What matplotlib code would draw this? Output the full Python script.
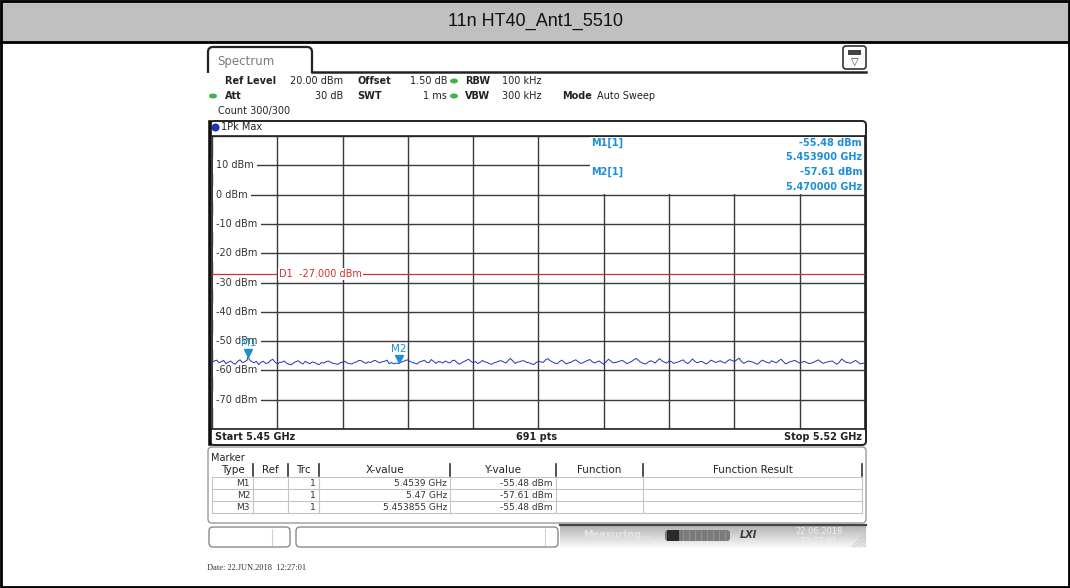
import numpy as np
import matplotlib
matplotlib.use('Agg')
import matplotlib.pyplot as plt
from matplotlib.patches import Rectangle, FancyBboxPatch, Ellipse, Circle
from matplotlib.transforms import offset_copy, blended_transform_factory

plt.rcParams['font.family'] = 'DejaVu Sans'

title = '11n HT40_Ant1_5510'
f_start, f_stop = 5.45, 5.52
ref_level, y_bottom = 20.0, -80.0
d1_limit = -27.0
sweep_points = 691
ytick_vals = [10, 0, -10, -20, -30, -40, -50, -60, -70]

# max-hold trace, one value per 0.25 MHz
trace_dbm = [
    -57.3, -56.8, -56.5, -57.4, -57.0, -56.6, -57.7, -57.2, -56.8, -57.5,
    -57.9, -56.9, -56.4, -57.3, -57.1, -56.5, -56.3, -57.0, -57.4, -56.9,
    -58.0, -57.2, -56.9, -57.6, -57.5, -56.7, -56.2, -57.1, -57.8, -57.3,
    -57.2, -56.8, -57.6, -57.9, -58.1, -57.4, -57.0, -56.7, -57.4, -57.8,
    -56.9, -57.4, -57.7, -57.1, -57.3, -57.8, -58.0, -57.3, -57.5, -57.0,
    -56.8, -57.3, -57.6, -57.8, -57.9, -57.4, -57.2, -56.9, -57.5, -57.7,
    -57.8, -57.3, -57.1, -56.6, -56.7, -57.2, -57.6, -57.1, -57.3, -56.8,
    -56.6, -57.1, -57.4, -57.0, -56.9, -56.5, -57.7, -57.3, -57.8, -57.5,
    -57.61, -57.2, -57.0, -56.6, -56.4, -57.0, -57.3, -57.6, -57.8, -57.1,
    -56.9, -56.5, -57.2, -57.4, -56.3, -56.9, -57.6, -57.0, -57.1, -57.5,
    -56.8, -57.2, -57.5, -56.7, -56.5, -57.3, -57.9, -57.4, -57.0, -56.6,
    -56.2, -56.9, -57.4, -57.0, -57.7, -57.2, -56.6, -57.1, -57.3, -57.7,
    -57.9, -57.4, -57.2, -56.8, -56.7, -57.1, -57.5, -56.6, -55.9, -56.8,
    -57.6, -57.2, -57.0, -56.7, -56.8, -57.3, -57.4, -57.8, -58.0, -57.3,
    -56.9, -57.1, -57.3, -56.4, -56.0, -56.7, -57.1, -57.5, -57.7, -57.0,
    -56.5, -57.2, -57.8, -57.4, -57.2, -56.7, -56.4, -57.0, -57.6, -57.4,
    -57.0, -56.6, -56.3, -57.0, -57.5, -57.1, -56.8, -57.4, -57.9, -57.0,
    -56.2, -56.8, -57.4, -57.3, -57.1, -56.8, -56.6, -57.2, -57.7, -57.3,
    -56.9, -56.3, -55.9, -56.7, -57.3, -57.6, -57.8, -57.2, -56.7, -57.0,
    -57.5, -56.6, -56.0, -56.8, -57.2, -57.5, -56.8, -57.0, -57.6, -57.3,
    -57.1, -56.7, -56.4, -57.2, -57.7, -57.0, -56.1, -56.9, -57.4, -57.1,
    -56.9, -57.4, -57.8, -57.2, -56.5, -56.9, -57.3, -57.0, -56.7, -57.2,
    -57.5, -56.8, -56.3, -56.6, -57.0, -56.4, -55.8, -56.9, -57.6, -57.2,
    -56.8, -57.0, -57.2, -57.6, -57.9, -57.1, -56.5, -56.9, -57.3, -57.5,
    -56.7, -57.1, -57.4, -56.7, -56.2, -57.0, -57.8, -57.4, -57.0, -56.8,
    -56.6, -57.1, -57.5, -57.2, -56.9, -57.3, -57.7, -57.5, -57.2, -56.8,
    -56.4, -57.0, -57.6, -57.3, -57.1, -56.9, -56.8, -57.4, -57.9, -57.2,
    -56.1, -56.7, -57.3, -57.4, -57.5, -57.0, -56.6, -57.2, -57.8, -57.6,
    -57.4,
]

marker_names = ['M1', 'M2', 'M3']
marker_freq = [5.4539, 5.47, 5.453855]
marker_dbm = [-55.48, -57.61, -55.48]
marker_trace = [1, 1, 1]
shown = ['M1', 'M2']

table_cols = ['Type', 'Ref', 'Trc', 'X-value', 'Y-value', 'Function', 'Function Result']

W, H = 1070, 588
trace_col = '#2433b8'
mk_col = '#1e8fd6'
grid_col = '#3a3a3a'
txt_col = '#333333'

# put marker readings onto the frequency grid of the trace
freq = np.linspace(f_start, f_stop, len(trace_dbm))
level = np.array(trace_dbm, dtype=float)
for f, v in zip(marker_freq, marker_dbm):
    k = np.argmin(np.abs(freq - f))
    if abs(freq[k] - f) < 1e-9:
        level[k] = v
    else:
        k = np.searchsorted(freq, f)
        freq = np.insert(freq, k, f)
        level = np.insert(level, k, v)


def ghz(f):
    return f'{f:.6f}'.rstrip('0').rstrip('.') + ' GHz'


fig = plt.figure(figsize=(W / 100, H / 100), dpi=100)

bg = fig.add_axes([0, 0, 1, 1], zorder=0)
bg.set_xlim(0, W)
bg.set_ylim(H, 0)
bg.axis('off')

ax = fig.add_axes([212 / W, 1 - 429 / H, 653 / W, 293 / H], zorder=1)
ov = fig.add_axes([0, 0, 1, 1], zorder=2)
ov.set_xlim(0, W)
ov.set_ylim(H, 0)
ov.axis('off')
ov.patch.set_visible(False)

# title bar and outer frame
bg.add_patch(Rectangle((0, 0), W, 42, fc='#c0c0c0', ec='none'))
bg.plot([0, W], [42, 42], color='black', lw=2)
bg.add_patch(Rectangle((1, 1), W - 2, H - 2, fill=False, ec='black', lw=2))
bg.text(535, 21, title, ha='center', va='center', fontsize=13,
        family='Liberation Sans', color='#111111')

# "Spectrum" tab
bg.add_patch(FancyBboxPatch((208, 47), 104, 40, boxstyle='round,pad=0,rounding_size=5',
                            fc='white', ec='#222222', lw=1.6))
bg.add_patch(Rectangle((205, 73), 112, 20, fc='white', ec='none'))
bg.plot([312, 866], [72, 72], color='#222222', lw=1.8)
bg.text(217, 61, 'Spectrum', ha='left', va='center', fontsize=8.5, color='#7a7a7a')

# settings icon
bg.add_patch(FancyBboxPatch((843, 46), 23, 23, boxstyle='round,pad=0,rounding_size=3',
                            fc='white', ec='#333333', lw=1.2))
bg.add_patch(Rectangle((848, 50), 13, 5, fc='#444444', ec='none'))
bg.text(854.5, 62, '\u25bd', ha='center', va='center', fontsize=7, color='#333333')


def hdr(x, y, s, bold=False, ha='left'):
    bg.text(x, y, s, ha=ha, va='center', fontsize=7, color='#222222',
            fontweight='bold' if bold else 'normal')


def dot(x, y, col='#3cb44b'):
    bg.add_patch(Ellipse((x, y), 8, 5, fc=col, ec='none'))


hdr(225, 81, 'Ref Level', True)
hdr(343, 81, f'{ref_level:.2f} dBm', ha='right')
hdr(357, 81, 'Offset', True)
hdr(447, 81, '1.50 dB', ha='right')
dot(454, 81)
hdr(465, 81, 'RBW', True)
hdr(502, 81, '100 kHz')
dot(213, 96)
hdr(225, 96, 'Att', True)
hdr(343, 96, '30 dB', ha='right')
hdr(357, 96, 'SWT', True)
hdr(447, 96, '1 ms', ha='right')
dot(454, 96)
hdr(465, 96, 'VBW', True)
hdr(502, 96, '300 kHz')
hdr(562, 96, 'Mode', True)
hdr(597, 96, 'Auto Sweep')
hdr(218, 111, 'Count 300/300')

# diagram frame
ov.add_patch(FancyBboxPatch((210, 121), 656, 324, boxstyle='round,pad=0,rounding_size=4',
                            fill=False, ec='#222222', lw=1.4))
ov.plot([210, 210], [122, 444], color='#111111', lw=2.6)
bg.add_patch(Circle((215.5, 127.5), 3.6, fc='#1a35d0', ec='#0a1a80', lw=0.5))
bg.text(221, 127.5, '1Pk Max', ha='left', va='center', fontsize=7, color='#222222')

# trace diagram
ax.set_xlim(f_start, f_stop)
ax.set_ylim(y_bottom, ref_level)
ax.set_xticks(np.linspace(f_start, f_stop, 11))
ax.set_yticks(np.arange(y_bottom, ref_level + 1, 10))
ax.grid(True, color=grid_col, lw=1)
ax.set_axisbelow(True)
ax.tick_params(length=0, labelbottom=False, labelleft=False)
for side, sp in ax.spines.items():
    sp.set_color('#222222')
    sp.set_linewidth(1.2)
ax.spines['left'].set_visible(False)

blend = blended_transform_factory(ax.transAxes, ax.transData)
for v in ytick_vals:
    ax.text((216 - 212) / 653, v, f'{v} dBm', transform=blend, ha='left', va='center',
            fontsize=7, color=txt_col, zorder=4,
            bbox=dict(boxstyle='square,pad=0.35', fc='white', ec='none'))

# display line D1 sits above the level labels
ax.axhline(d1_limit, color='#d03030', lw=0.9, zorder=5)
ax.text((279 - 212) / 653, d1_limit, f'D1  {d1_limit:.3f} dBm', transform=blend,
        ha='left', va='center', fontsize=7, color='#d03030', zorder=5.5,
        bbox=dict(boxstyle='square,pad=0.12', fc='white', ec='none'))

ax.plot(freq, level, color=trace_col, lw=0.7, zorder=6)

tri_tf = offset_copy(ax.transData, fig=fig, y=4, units='dots')
lbl_tf = offset_copy(ax.transData, fig=fig, y=14, units='dots')
for name, f, v in zip(marker_names, marker_freq, marker_dbm):
    if name not in shown:
        continue
    ax.plot(f, v, marker='v', ms=6, color=mk_col, transform=tri_tf, zorder=7)
    ax.text(f, v, name, transform=lbl_tf, ha='center', va='center', fontsize=7.5,
            color=mk_col, zorder=7)

# marker readout over the top right of the grid
ov.add_patch(Rectangle((590, 137), 274, 57, fc='white', ec='none'))
rows_y = [143, 157, 172, 187]
for i, name in enumerate(shown):
    j = marker_names.index(name)
    y0 = rows_y[2 * i]
    ov.text(591, y0, f'{name}[{marker_trace[j]}]', ha='left', va='center', fontsize=7,
            fontweight='bold', color=mk_col)
    ov.text(862, y0, f'{marker_dbm[j]:.2f} dBm', ha='right', va='center', fontsize=7,
            fontweight='bold', color=mk_col)
    ov.text(862, rows_y[2 * i + 1], f'{marker_freq[j]:.6f} GHz', ha='right', va='center',
            fontsize=7, fontweight='bold', color=mk_col)

bg.text(215, 437, f'Start {f_start:g} GHz', ha='left', va='center', fontsize=7,
        fontweight='bold', color='#222222')
bg.text(537, 437, f'{sweep_points} pts', ha='center', va='center', fontsize=7,
        fontweight='bold', color='#222222')
bg.text(862, 437, f'Stop {f_stop:g} GHz', ha='right', va='center', fontsize=7,
        fontweight='bold', color='#222222')

# marker table
bg.add_patch(FancyBboxPatch((208, 447), 658, 76, boxstyle='round,pad=0,rounding_size=4',
                            fill=False, ec='#9a9a9a', lw=1))
bg.text(211, 458, 'Marker', ha='left', va='center', fontsize=7, color='#222222')
col_edges = [212, 253, 288, 319, 450, 556, 643, 862]
for x in col_edges[1:]:
    bg.plot([x, x], [464, 476], color='#333333', lw=1.2)
for k, name in enumerate(table_cols):
    bg.text((col_edges[k] + col_edges[k + 1]) / 2, 470, name, ha='center', va='center',
            fontsize=7.5, color='#222222')
row_lines = [477, 489, 501, 513]
for y in row_lines:
    bg.plot([212, 862], [y, y], color='#c4c4c4', lw=0.8)
for x in col_edges:
    bg.plot([x, x], [477, 513], color='#c4c4c4', lw=0.8)
for r, (name, f, v, t) in enumerate(zip(marker_names, marker_freq, marker_dbm, marker_trace)):
    y = (row_lines[r] + row_lines[r + 1]) / 2
    bg.text(250, y, name, ha='right', va='center', fontsize=6.5, color=txt_col)
    bg.text(316, y, str(t), ha='right', va='center', fontsize=6.5, color=txt_col)
    bg.text(447, y, ghz(f), ha='right', va='center', fontsize=6.5, color=txt_col)
    bg.text(553, y, f'{v:.2f} dBm', ha='right', va='center', fontsize=6.5, color=txt_col)

# status bar
bg.add_patch(FancyBboxPatch((209, 527), 81, 20, boxstyle='round,pad=0,rounding_size=4',
                            fill=False, ec='#8a8a8a', lw=1))
bg.plot([272, 272], [529, 545], color='#d0d0d0', lw=0.8)
bg.add_patch(FancyBboxPatch((296, 527), 262, 20, boxstyle='round,pad=0,rounding_size=4',
                            fill=False, ec='#8a8a8a', lw=1))
bg.plot([545, 545], [529, 545], color='#d0d0d0', lw=0.8)
grad = np.linspace(0.70, 0.98, 40)[:, None] * np.ones((1, 2))
bg.imshow(grad, extent=(560, 866, 548, 525), cmap='gray', vmin=0, vmax=1,
          aspect='auto', interpolation='bilinear', zorder=0.5)
bg.plot([560, 866], [525, 525], color='#444444', lw=1.6)
bg.text(583, 535, 'Measuring...', ha='left', va='center', fontsize=7,
        fontweight='bold', color='#e4e4e4')
bg.add_patch(FancyBboxPatch((665, 530), 65, 11, boxstyle='round,pad=0,rounding_size=3',
                            fc='#7a7a7a', ec='none'))
bg.add_patch(Rectangle((667, 530), 12, 11, fc='#2a2a2a', ec='none'))
for x in range(683, 728, 6):
    bg.plot([x, x], [531, 540], color='#999999', lw=0.6)
bg.text(740, 535.5, 'LXI', ha='left', va='center', fontsize=7, fontweight='bold',
        fontstyle='italic', color='#3a3a3a')
bg.text(795, 531, '22.06.2018', ha='left', va='center', fontsize=6, color='#eeeeee')
bg.text(800, 541, '12:27:01', ha='left', va='center', fontsize=6, color='#eeeeee')
for d in range(0, 14, 3):
    bg.plot([852 + d, 866], [547, 533 + d], color='#bcbcbc', lw=0.5)

bg.text(207, 568, 'Date: 22.JUN.2018  12:27:01', ha='left', va='center', fontsize=6,
        family='Liberation Serif', color='#333333')

fig.savefig('out.png', dpi=100)
